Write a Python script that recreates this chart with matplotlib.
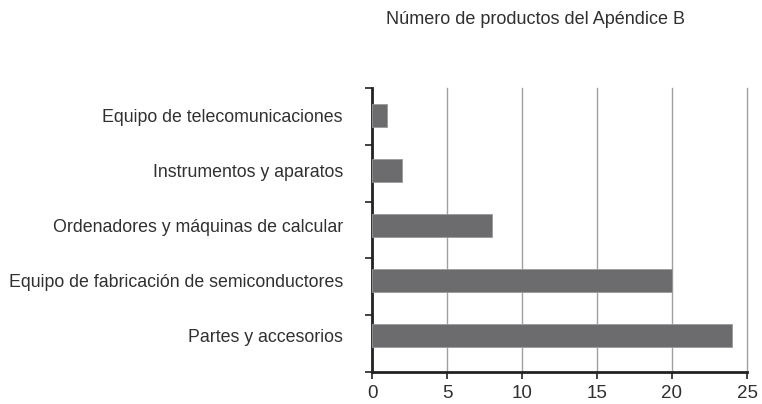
import numpy as np
import matplotlib
matplotlib.use("Agg")
import matplotlib.pyplot as plt

categories = [
    "Partes y accesorios",
    "Equipo de fabricación de semiconductores",
    "Ordenadores y máquinas de calcular",
    "Instrumentos y aparatos",
    "Equipo de telecomunicaciones",
]
values = [24, 20, 8, 2, 1]
x_ticks = [0, 5, 10, 15, 20, 25]
title = "Número de productos del Apéndice B"

plt.rcParams['font.family'] = ['Liberation Sans', 'DejaVu Sans']
text_color = '#303030'

fig = plt.figure(figsize=(7.62, 4.04), dpi=100)
ax = fig.add_axes([372 / 762, 1 - 372 / 404, 375 / 762, 284 / 404])

pos = np.arange(len(categories))
ax.barh(pos, values, height=0.42, color='#6c6c6e', edgecolor='#9a9a9c',
        linewidth=0.6, zorder=3)

ax.set_xlim(0, 25)
ax.set_ylim(-0.66, 4.5)
ax.set_xticks(x_ticks)
ax.set_xticklabels([str(t) for t in x_ticks], fontsize=13.5, color=text_color)
ax.set_yticks(pos)
ax.set_yticklabels(categories, fontsize=12.8, color=text_color)
ax.tick_params(axis='y', length=0, pad=21)
ax.set_yticks(np.linspace(-0.66, 4.5, 6), minor=True)
ax.tick_params(axis='y', which='minor', length=5, width=1.2, color='#222222')
ax.tick_params(axis='x', length=5, width=1.2, color='#222222', pad=4)

ax.grid(axis='x', color='#a0a0a0', linewidth=1.0, zorder=0)
for gl in ax.get_xgridlines():
    gl.set_clip_on(False)
for s in ['top', 'right']:
    ax.spines[s].set_visible(False)
for s in ['left', 'bottom']:
    ax.spines[s].set_linewidth(2)
    ax.spines[s].set_color('#222222')

fig.text(536 / 762, 1 - 20 / 404, title, ha='center', va='center',
         fontsize=13, color=text_color)

fig.savefig("out.png", dpi=100)
